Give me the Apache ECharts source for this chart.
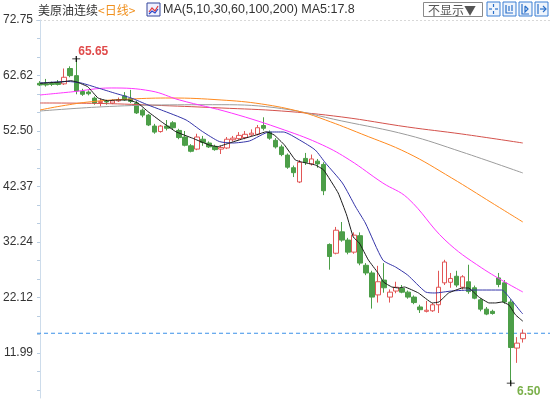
<!DOCTYPE html>
<html>
<head>
<meta charset="utf-8">
<script src="https://cdn.jsdelivr.net/npm/echarts@6/dist/echarts.min.js"></script>
<style>
  html, body { margin: 0; padding: 0; background: #fff; }
  #main { width: 550px; height: 400px; }
</style>
</head>
<body>
<div id="main"></div>
<script>
// y tick labels
const yTicks = [72.75, 62.62, 52.5, 42.37, 32.24, 22.12, 11.99];

// daily candles (open / close / low / high)
const opens = [61.2, 61.1, 61.2, 61.3, 61.1, 63.9, 62.6, 59.7, 59.6, 58.5,
  57.7, 57.9, 57.6, 58.0, 58.9, 58.4, 57.6, 56.3, 55.4, 53.4,
  52.4, 53.4, 54.0, 52.6, 51.4, 49.8, 49.2, 51.0, 50.3, 49.7,
  49.2, 49.4, 50.9, 51.1, 51.3, 51.8, 51.9, 53.5, 52.3, 50.8,
  49.6, 48.1, 45.8, 43.2, 47.5, 46.5, 47.0, 46.4, 31.8, 30.2,
  34.1, 32.6, 30.4, 33.4, 28.0, 26.6, 22.6, 25.3, 22.2, 23.3,
  23.8, 23.1, 22.2, 20.4, 19.6, 19.7, 20.8, 24.8, 24.9, 26.0,
  24.0, 25.0, 23.9, 21.7, 20.0, 19.6, 25.7, 24.8, 21.3, 12.9, 14.6];
const closes = [60.9, 60.9, 61.0, 61.0, 62.3, 62.6, 59.8, 59.2, 59.3, 57.6,
  57.9, 57.8, 58.0, 58.2, 58.2, 57.9, 55.8, 55.4, 53.6, 52.3,
  53.4, 53.0, 53.1, 51.3, 49.9, 48.8, 51.4, 50.4, 49.6, 49.1,
  49.5, 51.0, 51.2, 51.7, 51.9, 52.1, 53.1, 53.0, 51.2, 49.6,
  48.2, 45.9, 44.9, 46.8, 46.8, 47.4, 46.5, 41.6, 29.6, 34.4,
  32.6, 30.4, 33.5, 28.4, 26.6, 22.2, 25.0, 23.9, 23.1, 24.0,
  23.1, 22.2, 21.2, 19.9, 19.8, 20.8, 24.0, 28.6, 25.6, 24.4,
  25.9, 23.2, 22.0, 20.0, 19.1, 19.2, 24.5, 21.3, 13.0, 13.8, 15.6];
const lows = [60.7, 60.6, 60.7, 60.8, 60.9, 62.3, 59.2, 58.9, 59.0, 57.3,
  57.0, 57.3, 57.4, 57.8, 58.0, 57.6, 55.6, 55.0, 53.4, 52.0,
  52.2, 52.6, 52.8, 51.0, 49.7, 48.6, 49.0, 49.8, 49.4, 48.9,
  48.3, 49.2, 50.6, 50.9, 51.0, 51.5, 51.7, 52.6, 50.9, 49.3,
  47.9, 45.6, 44.1, 43.0, 46.3, 46.2, 45.8, 40.8, 27.2, 30.0,
  32.3, 30.0, 30.1, 28.0, 26.2, 20.1, 21.2, 23.0, 21.2, 22.9,
  22.9, 21.9, 20.9, 19.3, 19.4, 19.5, 19.3, 24.4, 23.9, 24.0,
  23.6, 22.8, 21.8, 19.6, 18.9, 19.0, 24.0, 21.0, 6.5, 10.2, 13.9];
const highs = [61.6, 62.0, 61.5, 61.8, 63.9, 64.3, 65.65, 60.2, 59.9, 58.8,
  58.4, 58.2, 58.3, 58.6, 59.6, 60.0, 58.0, 56.6, 55.6, 53.8,
  53.6, 54.5, 54.3, 52.9, 52.5, 50.1, 52.0, 51.6, 50.6, 50.0,
  49.8, 51.4, 51.6, 52.3, 52.5, 52.8, 53.6, 55.0, 52.6, 51.2,
  50.0, 48.4, 46.2, 47.2, 48.5, 48.2, 47.4, 46.8, 32.0, 35.0,
  35.9, 33.0, 34.0, 34.0, 28.4, 27.0, 27.9, 28.4, 23.6, 25.0,
  24.4, 23.4, 22.5, 20.8, 21.5, 21.1, 27.0, 29.0, 26.6, 27.0,
  26.2, 28.1, 24.3, 22.0, 20.4, 19.9, 26.6, 25.3, 21.8, 14.9, 16.3];

// moving averages, read as [candle position, value]
const ma5 = [[0, 61.2], [3.5, 61.44], [5.1, 61.68], [6.1, 61.44], [7.9, 60.58], [9.6, 58.52],
  [11.2, 58.03], [12.8, 58.16], [14.6, 58.16], [16.2, 57.61], [17.9, 56.02], [20.1, 54.2],
  [22.5, 52.37], [25.3, 51.17], [28, 49.95], [29.4, 49.64], [31.4, 50.31], [33.5, 51.04],
  [35.8, 51.77], [37.5, 52.37], [38.8, 51.77], [40.5, 49.95], [42.3, 47.21], [43.3, 46.85],
  [45.6, 46.3], [47, 45.39], [49.4, 41.19], [50.8, 37.18], [51.9, 33.16], [52.9, 32.07],
  [54.4, 28.97], [56, 26.6], [56.9, 24.95], [58.3, 24.04], [59.4, 23.86], [60.4, 24.04],
  [62.7, 22.95], [65, 21.13], [66.1, 21.31], [67.7, 22.95], [70, 23.86], [71, 23.86],
  [72.7, 22.22], [74.4, 21.13], [75.5, 21.13], [76.6, 21.31], [77.7, 20.76], [78.8, 18.94], [80, 17.8]];
const ma10 = [[0, 61.26], [4.6, 61.53], [6.8, 61.26], [9.6, 60.35], [12.3, 59.43], [15.1, 58.52],
  [17.9, 57.24], [20.1, 56.33], [24.2, 54.51], [26.9, 52.41], [29.7, 50.58], [31.9, 50.31],
  [34.7, 50.68], [38, 52.32], [40.3, 52.32], [43, 50.86], [45.6, 49.03], [47.3, 46.66],
  [50.1, 43.01], [52.3, 38.64], [53.9, 35.72], [56.8, 28.97], [58.9, 27.69], [60.9, 26.23],
  [63.9, 23.13], [65.4, 22.95], [68.2, 23.31], [71.5, 23.49], [76.5, 23.49], [77.7, 22.22],
  [79.7, 19.48], [80, 19.12]];
const ma30 = [[0, 59.07], [5.1, 59.62], [11.8, 60.35], [18.4, 59.8], [23.1, 58.16], [31.7, 55.78],
  [40.5, 52.68], [46.8, 49.95], [51.3, 47.21], [56.8, 43.01], [60.9, 40.28], [67.1, 32.62],
  [73.2, 27.51], [80, 23.13]];
const ma60 = [[0, 56.33], [3.5, 57.06], [8.5, 57.85], [15.1, 58.34], [21.7, 58.52], [30, 58.16],
  [36.7, 57.43], [43.3, 55.97], [47.3, 54.51], [53.3, 51.95], [60.9, 48.49], [68.2, 43.93],
  [74.9, 39.37], [80, 35.9]];
const ma100 = [[0, 56.15], [10.1, 56.9], [20.1, 57.25], [30, 57.3], [40, 56.6], [50, 54.33],
  [60.9, 51.77], [69.9, 48.67], [80, 44.84]];
const ma200 = [[0, 57.61], [10.1, 57.52], [20.1, 57.15], [30, 56.7], [40, 56.15], [50, 55.06],
  [60.9, 53.23], [69.9, 51.95], [80, 50.31]];

const days = opens.map((_, i) => String(i));
const candles = opens.map((o, i) => [o, closes[i], lows[i], highs[i]]);
const lastClose = closes[closes.length - 1];

const yMin = 3.79;
const xEnd = 84;
// two small ticks between the labelled ones
const tickStep = (yTicks[0] - yTicks[1]) / 3;
const tickVals = [];
for (let v = yTicks[0]; v > yMin; v -= tickStep) tickVals.push(+v.toFixed(3));

const latin = '"Liberation Sans", "Noto Sans CJK SC", sans-serif';
const cjk = '"Noto Sans CJK SC", sans-serif';

const maLine = (name, data, color, smooth) => ({
  name,
  type: "line",
  xAxisIndex: 1,
  data,
  symbol: "none",
  smooth,
  silent: true,
  lineStyle: { color, width: 1 },
  z: 3,
});

const iconBox = (x, lines) => ({
  type: "group",
  x,
  y: 2,
  children: [
    { type: "rect", shape: { x: 0, y: 0, width: 13, height: 14 },
      style: { fill: "#eef4fc", stroke: "#3b7fd4", lineWidth: 1 } },
    ...lines.map((pts) => ({
      type: "polyline",
      shape: { points: pts },
      style: { stroke: "#2a6fc9", lineWidth: 1.2, fill: null },
    })),
  ],
});

const chart = echarts.init(document.getElementById("main"));
const option = {
  animation: false,
  grid: { left: 36, right: 0, top: 20, bottom: 2 },
  xAxis: [
    {
      type: "category",
      data: days,
      max: xEnd,
      boundaryGap: true,
      show: false,
    },
    {
      type: "value",
      min: -0.5,
      max: xEnd + 0.5,
      show: false,
    },
  ],
  yAxis: {
    type: "value",
    min: yMin,
    max: yTicks[0],
    splitLine: { show: false },
    axisLine: { show: true, lineStyle: { color: "#cddceb" } },
    axisTick: {
      show: true,
      length: 3,
      customValues: tickVals,
      lineStyle: { color: "#b8cce0" },
    },
    axisLabel: {
      customValues: yTicks,
      formatter: (v) => v.toFixed(2),
      color: "#333",
      fontSize: 12,
      fontFamily: latin,
      margin: 4,
    },
  },
  graphic: [
    { type: "line", shape: { x1: 36, y1: 20.5, x2: 550, y2: 20.5 },
      style: { stroke: "#d8d8d8", lineDash: [2, 2], lineWidth: 1 } },
    { type: "text", x: 38, y: 10,
      style: { text: "美原油连续", font: "12px " + cjk, fill: "#333", verticalAlign: "middle" } },
    { type: "text", x: 98, y: 10,
      style: { text: "<日线>", font: "12px " + cjk, fill: "#f0901e", verticalAlign: "middle" } },
    {
      type: "group",
      x: 147,
      y: 3,
      children: [
        { type: "rect", shape: { x: 0, y: 0, width: 13, height: 13 },
          style: { fill: "#eef0ff", stroke: "#33449a", lineWidth: 1 } },
        { type: "polyline", shape: { points: [[2, 9], [5, 5], [8, 8], [11, 3]] },
          style: { stroke: "#e23b3b", lineWidth: 1.2, fill: null } },
        { type: "polyline", shape: { points: [[2, 11], [5, 8], [8, 10], [11, 6]] },
          style: { stroke: "#2a45c8", lineWidth: 1.2, fill: null } },
      ],
    },
    { type: "text", x: 163, y: 10,
      style: { text: "MA(5,10,30,60,100,200) MA5:17.8", font: "12.5px " + latin, fill: "#333", verticalAlign: "middle" } },
    { type: "rect", shape: { x: 423.5, y: 2.5, width: 59, height: 14 },
      style: { fill: "#fff", stroke: "#8a8a8a", lineWidth: 1 } },
    { type: "text", x: 428, y: 10,
      style: { text: "不显示▼", font: "12px " + cjk, fill: "#555", verticalAlign: "middle" } },
    iconBox(487, [[[6.5, 2], [6.5, 5]], [[6.5, 9], [6.5, 12]], [[2, 7], [5, 7]], [[8, 7], [11, 7]]]),
    iconBox(503, [[[3, 3], [3, 11], [10, 11]], [[6, 4], [6, 9]], [[9, 3], [9, 9]]]),
    iconBox(519, [[[3, 2], [3, 12], [10, 12]], [[6, 4], [9, 7], [6, 10], [6, 4]]]),
    iconBox(535, [[[3, 2], [3, 12]], [[5, 7], [11, 7]], [[8, 4], [11, 7], [8, 10]]]),
  ],
  series: [
    {
      name: "美原油连续",
      type: "candlestick",
      data: candles,
      barWidth: 5,
      itemStyle: {
        color: "#ffffff",
        color0: "#4c9e48",
        borderColor: "#e25656",
        borderColor0: "#4c9e48",
        borderWidth: 1,
      },
      markPoint: {
        symbol: "path://M0,5L10,5M5,0L5,10",
        symbolSize: [8, 6],
        itemStyle: { color: "rgba(0,0,0,0)", borderColor: "#000", borderWidth: 1 },
        label: {
          show: true,
          position: "inside",
          fontSize: 12,
          fontWeight: "bold",
          fontFamily: latin,
          formatter: (p) => Number(p.value).toFixed(2),
        },
        data: [
          { type: "max", valueDim: "highest", label: { color: "#e04b4b", offset: [17, -7] } },
          { type: "min", valueDim: "lowest", label: { color: "#7ab04a", offset: [18, 9] } },
        ],
      },
    },
    {
      // current price line across the whole plot
      name: "price",
      type: "line",
      xAxisIndex: 1,
      data: [[-0.5, lastClose], [xEnd + 0.5, lastClose]],
      symbol: "none",
      silent: true,
      lineStyle: { color: "#3a90e8", type: [4, 3], width: 1 },
      z: 1,
    },
    maLine("MA200", ma200, "#d4524c", 0.4),
    maLine("MA100", ma100, "#9c9c9c", 0.4),
    maLine("MA60", ma60, "#ff8a1f", 0.4),
    maLine("MA30", ma30, "#ff33ff", 0.4),
    maLine("MA10", ma10, "#3434a8", 0.2),
    maLine("MA5", ma5, "#1a1a1a", 0.1),
  ],
};
chart.setOption(option);
</script>
</body>
</html>
